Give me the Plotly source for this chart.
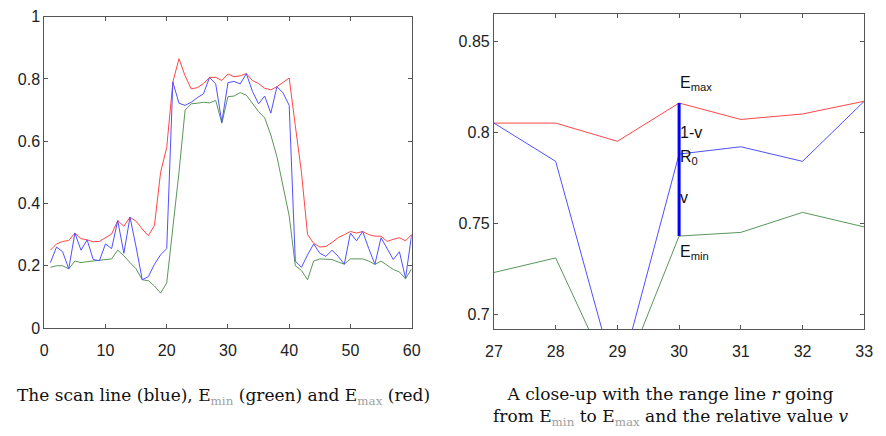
import plotly.graph_objects as go

# ---- data ----
pos = list(range(1, 61))
scan = [0.21, 0.26, 0.245, 0.19, 0.305, 0.25, 0.283, 0.22, 0.216, 0.27,
        0.255, 0.345, 0.24, 0.356, 0.26, 0.155, 0.165, 0.205, 0.235, 0.255,
        0.79, 0.722, 0.715, 0.725, 0.74, 0.752, 0.805, 0.784, 0.661, 0.788,
        0.792, 0.784, 0.817, 0.76, 0.72, 0.745, 0.69, 0.775, 0.755, 0.715,
        0.215, 0.195, 0.235, 0.27, 0.24, 0.23, 0.25, 0.23, 0.205, 0.305,
        0.28, 0.31, 0.255, 0.205, 0.29, 0.255, 0.22, 0.245, 0.16, 0.30]
emax = [0.25, 0.27, 0.278, 0.281, 0.305, 0.287, 0.283, 0.277, 0.278, 0.29,
        0.302, 0.345, 0.327, 0.356, 0.343, 0.318, 0.296, 0.33, 0.5, 0.58,
        0.79, 0.865, 0.81, 0.768, 0.772, 0.785, 0.805, 0.805, 0.795, 0.816,
        0.807, 0.81, 0.817, 0.795, 0.785, 0.77, 0.765, 0.775, 0.79, 0.803,
        0.65, 0.5, 0.30, 0.272, 0.26, 0.262, 0.275, 0.29, 0.30, 0.31,
        0.305, 0.31, 0.30, 0.295, 0.295, 0.278, 0.285, 0.29, 0.28, 0.30]
emin = [0.195, 0.2, 0.2, 0.19, 0.215, 0.21, 0.213, 0.215, 0.216, 0.218,
        0.222, 0.25, 0.232, 0.21, 0.19, 0.155, 0.152, 0.135, 0.112, 0.145,
        0.32, 0.5, 0.7, 0.72, 0.722, 0.725, 0.723, 0.731, 0.658, 0.743,
        0.745, 0.756, 0.748, 0.72, 0.695, 0.675, 0.62, 0.55, 0.45, 0.36,
        0.2, 0.185, 0.155, 0.215, 0.222, 0.222, 0.22, 0.212, 0.205, 0.222,
        0.222, 0.222, 0.215, 0.204, 0.215, 0.2, 0.188, 0.18, 0.158, 0.19]

left_xticks = [0, 10, 20, 30, 40, 50, 60]
left_yticks = [0, 0.2, 0.4, 0.6, 0.8, 1]
left_yticklabels = ["0", "0.2", "0.4", "0.6", "0.8", "1"]
right_xticks = [27, 28, 29, 30, 31, 32, 33]
right_yticks = [0.7, 0.75, 0.8, 0.85]
right_yticklabels = ["0.7", "0.75", "0.8", "0.85"]
range_pos = 30

SUBC = "#a0a0a0"
caption_left = (f"The scan line (blue), E<span style='color:{SUBC}'><sub>min</sub></span> (green) "
                f"and E<span style='color:{SUBC}'><sub>max</sub></span> (red)")
caption_right = ("A close-up with the range line <i>r</i> going<br>"
                 f"from E<span style='color:{SUBC}'><sub>min</sub></span> to "
                 f"E<span style='color:{SUBC}'><sub>max</sub></span> and the relative value <i>v</i>")

RED = "rgb(255,70,70)"
BLUE = "rgb(80,80,255)"
GREEN = "rgb(90,150,90)"

fig = go.Figure()
for xa, ya in (("x", "y"), ("x2", "y2")):
    fig.add_trace(go.Scatter(x=pos, y=emax, mode="lines", line=dict(color=RED, width=1),
                             xaxis=xa, yaxis=ya, showlegend=False, hoverinfo="skip"))
    fig.add_trace(go.Scatter(x=pos, y=emin, mode="lines", line=dict(color=GREEN, width=1),
                             xaxis=xa, yaxis=ya, showlegend=False, hoverinfo="skip"))
    fig.add_trace(go.Scatter(x=pos, y=scan, mode="lines", line=dict(color=BLUE, width=1),
                             xaxis=xa, yaxis=ya, showlegend=False, hoverinfo="skip"))

i = pos.index(range_pos)
fig.add_trace(go.Scatter(x=[range_pos, range_pos], y=[emin[i], emax[i]], mode="lines",
                         line=dict(color="rgb(0,0,255)", width=3),
                         xaxis="x2", yaxis="y2", showlegend=False, hoverinfo="skip"))

axis_common = dict(showline=True, linecolor="#555", linewidth=1, mirror="ticks",
                   ticks="inside", ticklen=4, tickcolor="#555", showgrid=False,
                   zeroline=False, tickfont=dict(family="Liberation Sans", size=16, color="#222"))

fig.update_layout(
    width=886, height=436,
    margin=dict(l=0, r=0, t=0, b=0),
    paper_bgcolor="white", plot_bgcolor="white",
    xaxis=dict(domain=[36/886, 411/886], range=[0, 60], tickvals=left_xticks,
               anchor="y", ticklabelstandoff=8, **axis_common),
    yaxis=dict(domain=[1-333/436, 1-9/436], range=[0, 1], tickvals=left_yticks,
               ticktext=left_yticklabels, anchor="x", **axis_common),
    xaxis2=dict(domain=[495/886, 873/886], range=[27, 33], tickvals=right_xticks,
                anchor="y2", ticklabelstandoff=8, **axis_common),
    yaxis2=dict(domain=[1-334/436, 1-6/436], range=[0.692, 0.865], tickvals=right_yticks,
                ticktext=right_yticklabels, anchor="x2", **axis_common),
)

lab_font = dict(family="Liberation Sans", size=16, color="#111")
labels = [("E<sub>max</sub>", emax[i] + 0.011),
          ("1-v", 0.80),
          ("R<sub>0</sub>", scan[i] - 0.002),
          ("v", 0.764),
          ("E<sub>min</sub>", emin[i] - 0.009)]
for txt, yv in labels:
    fig.add_annotation(x=range_pos, y=yv, xref="x2", yref="y2", text=txt, showarrow=False,
                       xanchor="left", yanchor="middle", xshift=-1, font=lab_font)

cap_font = dict(family="DejaVu Serif", size=17, color="#111")
fig.add_annotation(x=219/886, y=1-404/436, xref="paper", yref="paper", text=caption_left,
                   showarrow=False, xanchor="center", yanchor="middle", font=cap_font)
fig.add_annotation(x=675/886, y=1-415/436, xref="paper", yref="paper", text=caption_right,
                   showarrow=False, xanchor="center", yanchor="middle", font=cap_font)

fig.write_html("out.html")
